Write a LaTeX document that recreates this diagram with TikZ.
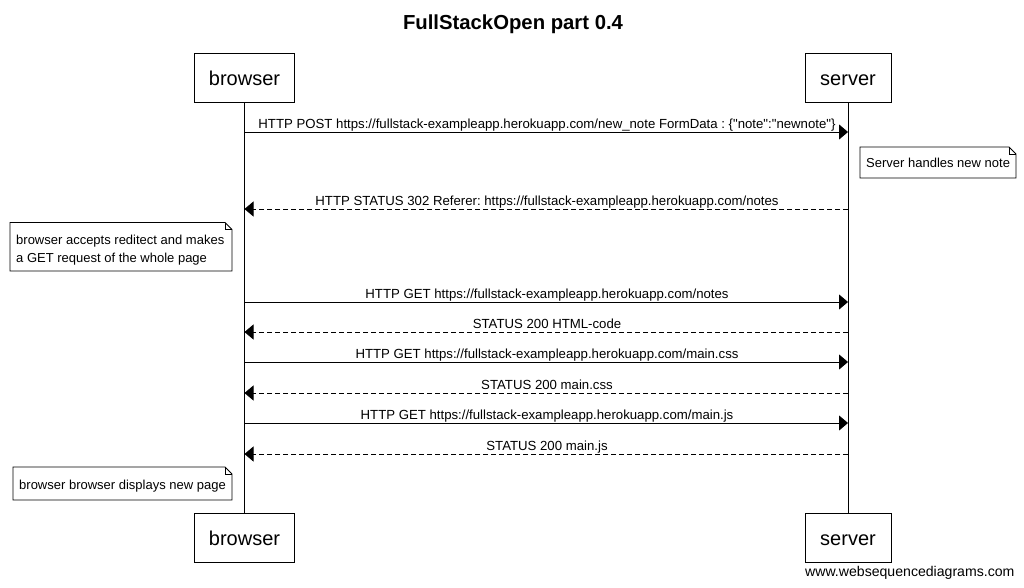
\documentclass[tikz,border=0pt]{standalone}
\usepackage{fontspec}
\setmainfont{Liberation Sans}[Ligatures=TeXOff]
\usetikzlibrary{arrows.meta}
\frenchspacing
\begin{document}
\begin{tikzpicture}[x=1pt,y=-1pt,
  actor/.style={draw,line width=0.8pt,minimum width=100pt,minimum height=49pt,inner sep=0pt,text height=19pt,text depth=2.6pt,font=\fontsize{20}{22}\selectfont},
  lifeline/.style={line width=0.8pt},
  msg/.style={line width=0.8pt,-{Triangle[length=9pt,width=15pt]}},
  reply/.style={msg,dash pattern=on 5pt off 3pt},
  lbl/.style={font=\fontsize{13.2}{15}\selectfont,inner sep=0pt,anchor=base},
  notetext/.style={font=\fontsize{13}{17.5}\selectfont,align=left,inner sep=0pt,anchor=north west},
  notebox/.style={line width=0.8pt},
]
\useasboundingbox (0,0) rectangle (1024,587);
\fill[white] (0,0) rectangle (1024,587);
% title
\node[font=\bfseries\fontsize{20.3}{22}\selectfont,anchor=base] (title) at (513,29) {FullStackOpen part 0.4};
% actors
\node[actor] (bt) at (244.5,77.5) {browser};
\node[actor,minimum width=86pt] (st) at (848,77.5) {server};
\node[actor] (bb) at (244.5,537.5) {browser};
\node[actor,minimum width=86pt] (sb) at (848,537.5) {server};
\draw[lifeline] (bt.south) -- (bb.north);
\draw[lifeline] (st.south) -- (sb.north);
% message coordinates
\foreach \n/\y in {1/132,2/209,3/302,4/332,5/362,6/393,7/423,8/454}{
  \coordinate (b\n) at (244.5,\y);
  \coordinate (s\n) at (848,\y);
}
\draw[msg] (b1) -- (s1);
\node[lbl] (l1) at (547,128) {HTTP POST https://fullstack-exampleapp.herokuapp.com/new\_note FormData : \{"note":"newnote"\}};
\draw[reply] (s2) -- (b2);
\node[lbl] (l2) at (547,205) {HTTP STATUS 302 Referer: https://fullstack-exampleapp.herokuapp.com/notes};
\draw[msg] (b3) -- (s3);
\node[lbl] (l3) at (547,298) {HTTP GET https://fullstack-exampleapp.herokuapp.com/notes};
\draw[reply] (s4) -- (b4);
\node[lbl] (l4) at (547,328) {STATUS 200 HTML-code};
\draw[msg] (b5) -- (s5);
\node[lbl] (l5) at (547,358) {HTTP GET https://fullstack-exampleapp.herokuapp.com/main.css};
\draw[reply] (s6) -- (b6);
\node[lbl] (l6) at (547,389) {STATUS 200 main.css};
\draw[msg] (b7) -- (s7);
\node[lbl] (l7) at (547,419) {HTTP GET https://fullstack-exampleapp.herokuapp.com/main.js};
\draw[reply] (s8) -- (b8);
\node[lbl] (l8) at (547,450) {STATUS 200 main.js};
% notes
\draw[notebox,fill=white] (860,147) -- (1009,147) -- (1016,154) -- (1016,178) -- (860,178) -- cycle;
\draw[notebox] (1009,147) -- (1009,154) -- (1016,154);
\node[notetext] (n1) at (866,158) {Server handles new note};
\draw[notebox,fill=white] (10,222.5) -- (225,222.5) -- (232,229.5) -- (232,271) -- (10,271) -- cycle;
\draw[notebox] (225,222.5) -- (225,229.5) -- (232,229.5);
\node[notetext] (n2) at (16,235) {browser accepts reditect and makes\\a GET request of the whole page};
\draw[notebox,fill=white] (13,467) -- (225,467) -- (232,474) -- (232,500) -- (13,500) -- cycle;
\draw[notebox] (225,467) -- (225,474) -- (232,474);
\node[notetext] (n3) at (19,480) {browser browser displays new page};
% footer
\node[font=\fontsize{14.1}{16}\selectfont,anchor=base west,inner sep=0pt] (footer) at (805,576) {www.websequencediagrams.com};
\end{tikzpicture}
\end{document}
